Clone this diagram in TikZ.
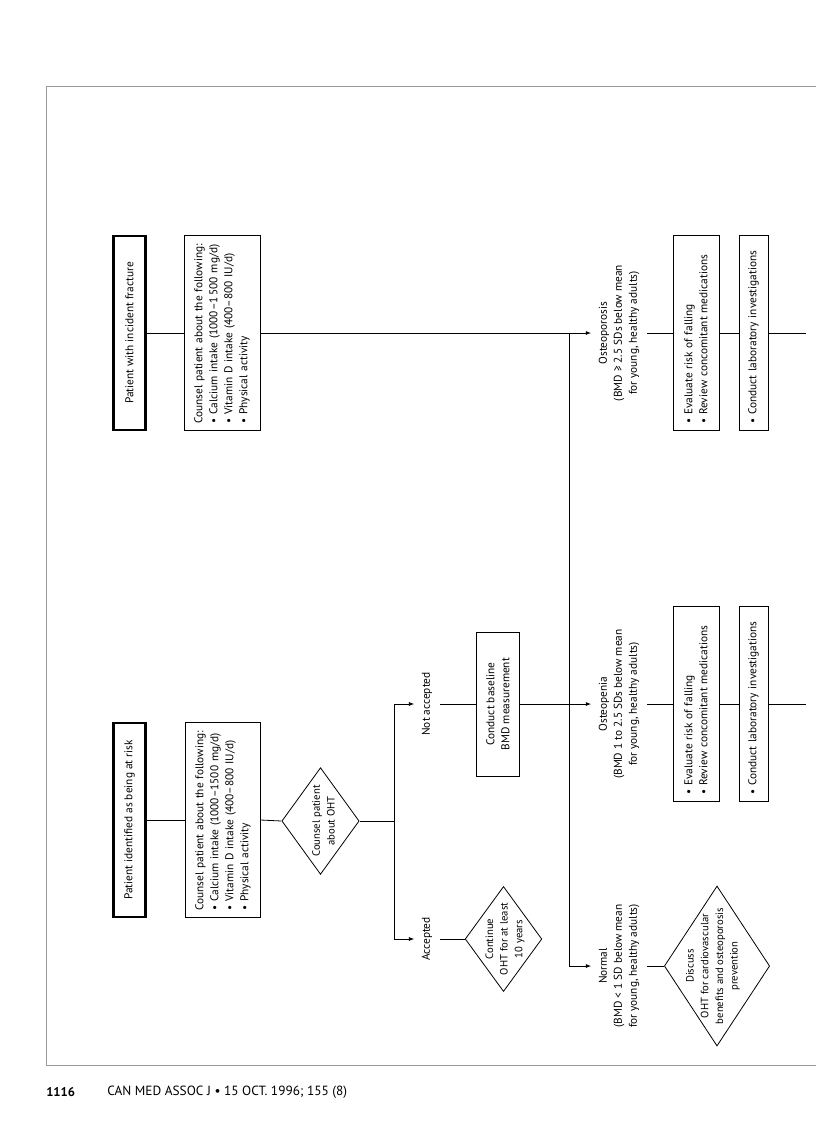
\documentclass[tikz,border=0pt]{standalone}
\usepackage{fontspec}
\setmainfont{PT Sans}
\usetikzlibrary{positioning,arrows.meta,shapes.geometric}

\newcommand{\fs}{\fontsize{8.5}{11.25}\selectfont}

\tikzset{
  startbox/.style={draw, line width=1.6pt, rotate=90, minimum width=145pt,
    minimum height=24pt, inner sep=0pt, font=\fs},
  listbox/.style={draw, line width=0.6pt, rotate=90, align=left,
    text width=136pt, inner xsep=5pt, inner ysep=0pt, font=\fs},
  plainbox/.style={draw, line width=0.6pt, rotate=90, align=center,
    inner sep=0pt, font=\fs},
  choice/.style={draw, diamond, line width=0.6pt, rotate=90, inner sep=0pt},
  choicetext/.style={rotate=90, align=center, inner sep=0pt,
    font=\fontsize{8}{11}\selectfont},
  tag/.style={rotate=90, align=center, inner xsep=1pt, inner ysep=5.5pt, font=\fs},
  link/.style={line width=0.6pt},
  flow/.style={link, -{Latex[length=4pt, width=3pt]}},
  frame/.style={gray!80, line width=0.5pt}
}

\begin{document}
\begin{tikzpicture}[x=0.75pt, y=-0.75pt]
  \useasboundingbox (0,0) rectangle (816,1128);
  % Page frame
  \draw[frame] (816,86) -- (46,86) -- (46,1065) -- (816,1065);

  % Patient with incident fracture
  \node[startbox] (frac) at (129.5,333) {Patient with incident fracture};
  \node[listbox, minimum height=57pt] (cfrac) at (222,333)
    {Counsel patient about the following:\\
     • Calcium intake (1000–1\,500 mg/d)\\
     • Vitamin D intake (400–800 IU/d)\\
     • Physical activity};

  % Patient at risk
  \node[startbox] (risk) at (129.5,820) {Patient identified as being at risk};
  \node[listbox, minimum height=56pt] (crisk) at (223,820)
    {Counsel patient about the following:\\
     • Calcium intake (1000–1500 mg/d)\\
     • Vitamin D intake (400–800 IU/d)\\
     • Physical activity};
  \node[choice, minimum width=80pt, minimum height=58pt] (oht) at (320.5,821) {};
  \node[choicetext] (oht-txt) at (323.5,821) {Counsel patient\\about OHT};
  \coordinate (fork) at (394,821);
  \node[tag] (notacc) at (427,704) {Not accepted};
  \node[tag] (acc) at (427,939) {Accepted};
  \node[plainbox, minimum width=108pt, minimum height=32pt] (bmd) at (498,704)
    {Conduct baseline\\BMD measurement};
  \node[choice, minimum width=78.75pt, minimum height=57.5pt] (cont) at (503.5,939) {};
  \node[choicetext] (cont-txt) at (505,939) {Continue\\OHT for at least\\10 years};

  % BMD outcomes
  \coordinate (split) at (569,333);
  \node[tag] (porosis) at (619,333)
    {Osteoporosis\\(BMD ≥ 2.5 SDs below mean\\for young, healthy adults)};
  \node[tag] (penia) at (619,704)
    {Osteopenia\\(BMD 1 to 2.5 SDs below mean\\for young, healthy adults)};
  \node[tag] (normal) at (619,966)
    {Normal\\(BMD < 1 SD below mean\\for young, healthy adults)};
  \node[choice, minimum width=120pt, minimum height=79pt] (disc) at (717,966) {};
  \node[choicetext] (disc-txt) at (713,966)
    {Discuss\\OHT for cardiovascular\\benefits and osteoporosis\\prevention};

  % Connectors
  \draw[link] (frac.south) -- (cfrac.north);
  \draw[flow] (cfrac.south) -- (porosis.north);
  \draw[flow] (split) |- (normal.north);
  \draw[link] (risk.south) -- (crisk.north);
  \draw[link] (crisk.south) -- (oht.north);
  \draw[link] (oht.south) -- (fork);
  \draw[flow] (fork) |- (notacc.north);
  \draw[flow] (fork) |- (acc.north);
  \draw[link] (notacc.south) -- (bmd.north);
  \draw[link] (acc.south) -- (cont.north);
  \draw[flow] (bmd.south) -- (penia.north);
  \draw[link] (normal.south) -- (disc.north);

  % Follow-up boxes for osteoporosis and osteopenia
  \foreach \nm/\y in {porosis/333, penia/704} {
    \node[listbox, minimum height=34.5pt] (eval-\nm) at (696,\y)
      {• Evaluate risk of falling\\• Review concomitant medications};
    \node[listbox, minimum height=21.75pt] (lab-\nm) at (753.5,\y)
      {• Conduct laboratory investigations};
    \coordinate (end-\nm) at (806,\y);
    \draw[link] (\nm.south) -- (eval-\nm.north);
    \draw[link] (eval-\nm.south) -- (lab-\nm.north);
    \draw[link] (lab-\nm.south) -- (end-\nm);
  }

  % Footer
  \node[anchor=west, inner xsep=0pt, font=\fontsize{9.5}{11}\selectfont\bfseries]
    (pgno) at (46,1092) {1116};
  \node[anchor=west, inner xsep=0pt, font=\fontsize{10}{12}\selectfont] (cite)
    at (107,1092) {CAN MED ASSOC J • 15 OCT. 1996; 155 (8)};
\end{tikzpicture}
\end{document}
